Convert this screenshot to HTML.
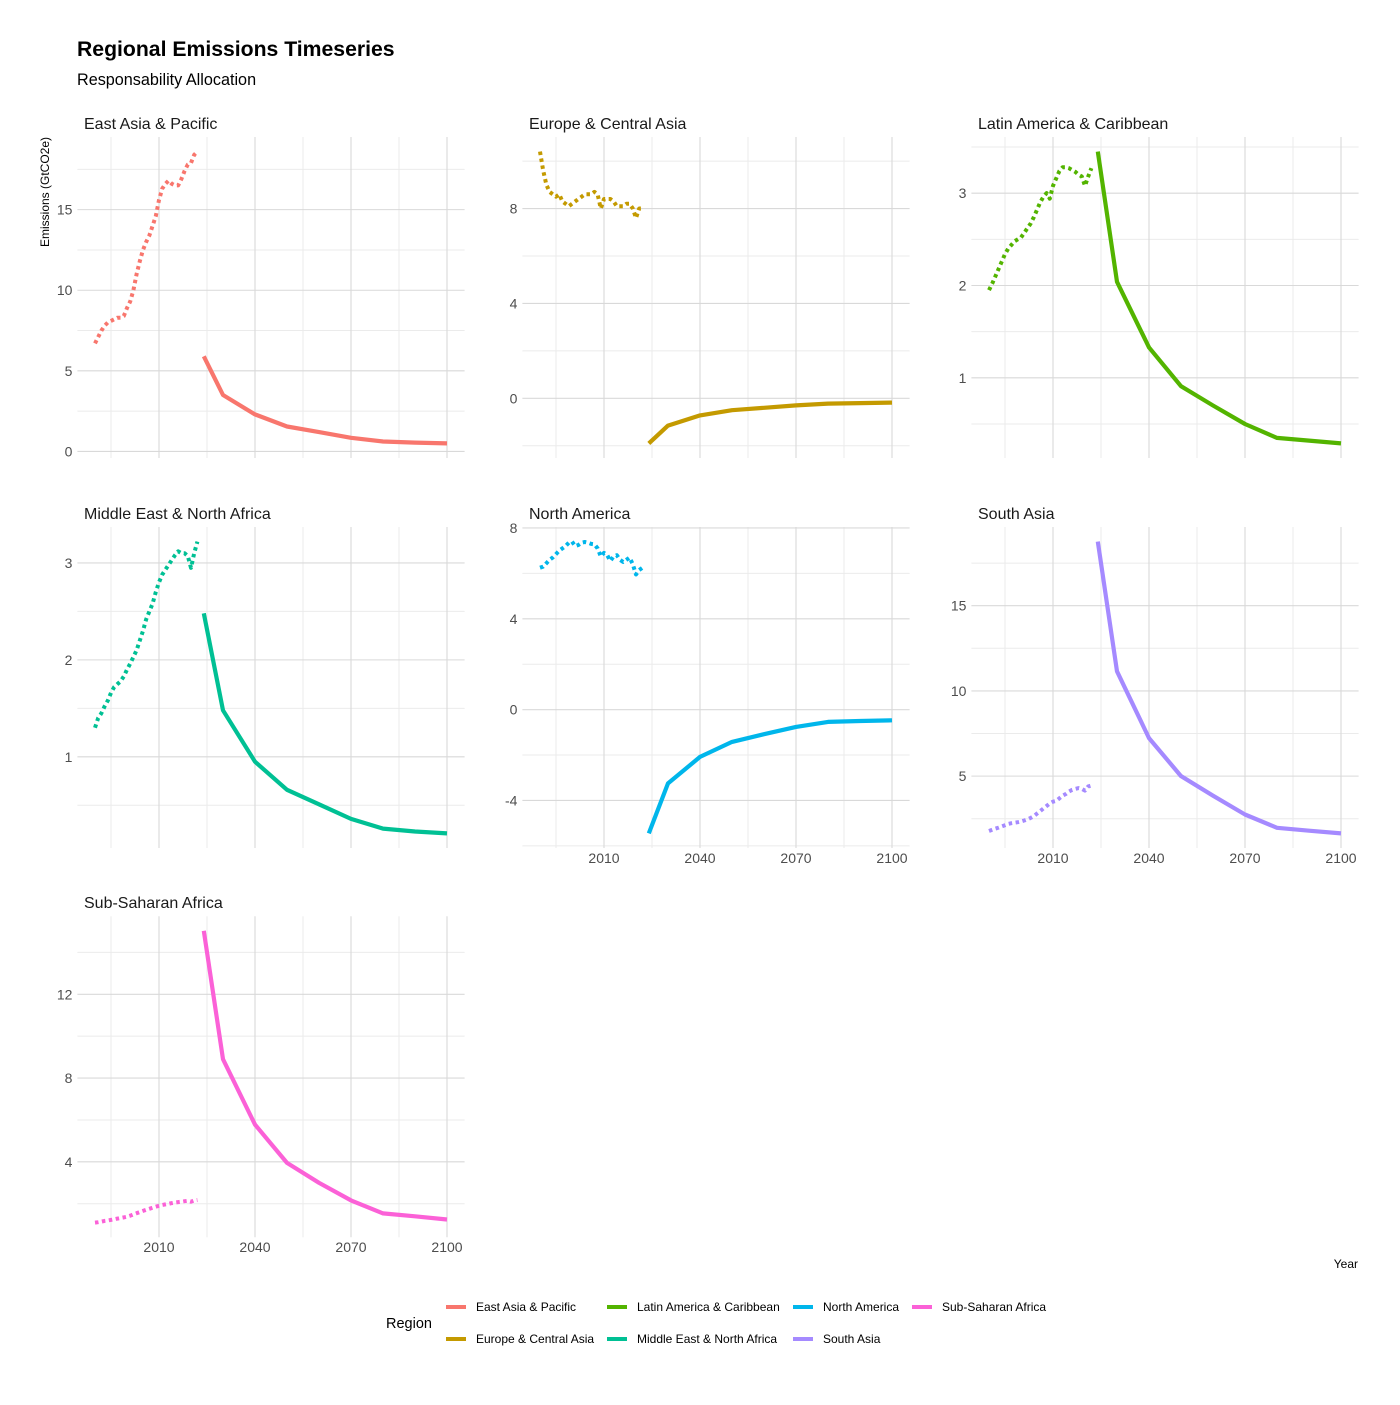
<!DOCTYPE html>
<html><head><meta charset="utf-8"><style>
body{margin:0;background:#fff;}
svg text{font-family:"Liberation Sans",sans-serif;}
</style></head><body>
<svg id="chart" width="1400" height="1400" viewBox="0 0 1400 1400" xmlns="http://www.w3.org/2000/svg">
<rect width="1400" height="1400" fill="#fff"/>
<text x="77" y="56" font-size="21.2" font-weight="bold" fill="#000">Regional Emissions Timeseries</text>
<text x="77" y="85" font-size="16.2" fill="#000">Responsability Allocation</text>
<text transform="translate(49,192) rotate(-90)" text-anchor="middle" font-size="12" fill="#000">Emissions (GtCO2e)</text>
<text x="1358" y="1268" text-anchor="end" font-size="12" fill="#000">Year</text>
<g id="panels"></g>
<g id="legend"></g>
</svg>
<script>
const regions = ["East Asia & Pacific","Europe & Central Asia","Latin America & Caribbean","Middle East & North Africa","North America","South Asia","Sub-Saharan Africa"];
const colors = ["#F8766D","#C49A00","#53B400","#00C094","#00B6EB","#A58AFF","#FB61D7"];
const histYears = [1990,1991,1992,1993,1994,1995,1996,1997,1998,1999,2000,2001,2002,2003,2004,2005,2006,2007,2008,2009,2010,2011,2012,2013,2014,2015,2016,2017,2018,2019,2020,2021,2022];
const projYears = [2024,2030,2040,2050,2060,2070,2080,2090,2100];
const histEAP = [6.7,7.1,7.5,7.8,8.0,8.1,8.2,8.3,8.3,8.4,8.9,9.3,10.0,11.0,11.8,12.5,13.0,13.4,14.0,14.6,15.6,16.3,16.6,16.8,16.6,16.5,16.5,16.9,17.4,17.8,17.9,18.4,18.6];
const projEAP = [5.9,3.5,2.3,1.55,1.2,0.85,0.62,0.55,0.5];
const histECA = [10.4,9.6,9.0,8.7,8.6,8.5,8.6,8.3,8.2,8.1,8.2,8.3,8.4,8.5,8.6,8.6,8.6,8.7,8.6,8.0,8.4,8.4,8.4,8.3,8.1,8.1,8.1,8.2,8.2,8.0,7.6,8.0,8.0];
const projECA = [-1.9,-1.15,-0.72,-0.5,-0.4,-0.3,-0.22,-0.2,-0.18];
const histLAC = [1.95,2.02,2.1,2.18,2.26,2.34,2.4,2.44,2.48,2.5,2.52,2.57,2.62,2.67,2.74,2.82,2.9,2.96,3.0,2.94,3.08,3.16,3.24,3.28,3.28,3.27,3.25,3.23,3.2,3.18,3.08,3.18,3.27];
const projLAC = [3.45,2.04,1.33,0.91,0.7,0.5,0.35,0.32,0.29];
const histMENA = [1.3,1.4,1.45,1.52,1.58,1.66,1.72,1.75,1.78,1.83,1.9,1.96,2.03,2.1,2.2,2.3,2.42,2.5,2.58,2.7,2.8,2.88,2.93,2.98,3.03,3.08,3.12,3.1,3.1,3.07,2.95,3.1,3.22];
const projMENA = [2.48,1.48,0.95,0.66,0.51,0.36,0.26,0.23,0.21];
const histNA = [6.25,6.3,6.45,6.6,6.7,6.85,7.0,7.1,7.2,7.35,7.4,7.2,7.25,7.35,7.38,7.35,7.3,7.28,7.1,6.75,6.9,6.8,6.55,6.75,6.8,6.6,6.5,6.6,6.7,6.4,5.95,6.15,6.25];
const projNA = [-5.45,-3.25,-2.08,-1.42,-1.08,-0.76,-0.54,-0.5,-0.47];
const histSA = [1.78,1.85,1.92,1.98,2.05,2.12,2.2,2.24,2.27,2.3,2.34,2.4,2.46,2.55,2.65,2.8,2.95,3.1,3.25,3.4,3.5,3.55,3.7,3.85,3.95,4.1,4.2,4.25,4.3,4.25,4.15,4.4,4.45];
const projSA = [18.76,11.15,7.23,5.0,3.85,2.75,1.97,1.8,1.64];
const histSSA = [1.1,1.12,1.15,1.18,1.2,1.23,1.26,1.29,1.32,1.35,1.38,1.43,1.49,1.55,1.6,1.66,1.71,1.76,1.81,1.86,1.9,1.94,1.97,2.0,2.03,2.06,2.08,2.1,2.12,2.14,2.1,2.16,2.18];
const projSSA = [15.03,8.9,5.78,3.95,3.0,2.16,1.54,1.4,1.25];
const histAll = [histEAP,histECA,histLAC,histMENA,histNA,histSA,histSSA];
const projAll = [projEAP,projECA,projLAC,projMENA,projNA,projSA,projSSA];
const yTicksAll = [[0,5,10,15],[0,4,8],[1,2,3],[1,2,3],[-4,0,4,8],[5,10,15],[4,8,12]];
const xTicks = [2010,2040,2070,2100];
const xMinor = [1995,2025,2055,2085];

const NS="http://www.w3.org/2000/svg";
const panelsG=document.getElementById('panels');
function mk(tag,attrs,parent){const e=document.createElementNS(NS,tag);for(const k in attrs)e.setAttribute(k,attrs[k]);parent.appendChild(e);return e;}
const lefts=[77.4,522.4,971.4], tops=[137,527,916.2], W=387.2, H=321;
const xMin=1984.5, xMax=2105.5;
regions.forEach((r,i)=>{
  const col=i%3,row=Math.floor(i/3);
  const L=lefts[col],T=tops[row],B=T+H;
  const g=mk('g',{},panelsG);
  
  
  const vals=histAll[i].concat(projAll[i]);
  let lo=Math.min(...vals),hi=Math.max(...vals);const pad=(hi-lo)*0.05;lo-=pad;hi+=pad;
  const sx=v=>L+(v-xMin)/(xMax-xMin)*W;
  const sy=v=>B-(v-lo)/(hi-lo)*H;
  const ticks=yTicksAll[i];const step=ticks[1]-ticks[0];
  for(let v=ticks[0]-step/2;v<=hi;v+=step){if(v<lo)continue;const y=sy(v);
    const ln=mk('line',{x1:L,x2:L+W,y1:y,y2:y,stroke:'#ebebeb','stroke-width':1},g);
    
    }
  xMinor.forEach(v=>{const x=sx(v);
    const ln=mk('line',{x1:x,x2:x,y1:T,y2:B,stroke:'#ebebeb','stroke-width':1},g);
    
    });
  ticks.forEach(v=>{const y=sy(v);
    const ln=mk('line',{x1:L,x2:L+W,y1:y,y2:y,stroke:'#d9d9d9','stroke-width':1.1},g);
    
    
    const t=mk('text',{x:L-5,y:y+5,'text-anchor':'end','font-size':14,fill:'#4d4d4d'},g);
    t.textContent=v;
    
    });
  const showX=(row===2)||(row===1&&col>0);
  xTicks.forEach(v=>{const x=sx(v);
    const ln=mk('line',{x1:x,x2:x,y1:T,y2:B,stroke:'#d9d9d9','stroke-width':1.1},g);
    
    
    if(showX){const t=mk('text',{x:x,y:B+15,'text-anchor':'middle','font-size':14,fill:'#4d4d4d'},g);
      t.textContent=v;
      
      }});
  const st=mk('text',{x:L+6.6,y:T-8,'font-size':16,fill:'#1a1a1a'},g);
  st.textContent=r;
  
  
  const hp=histYears.map((y,k)=>sx(y).toFixed(1)+','+sy(histAll[i][k]).toFixed(1)).join(' ');
  const h=mk('polyline',{points:hp,fill:'none',stroke:colors[i],'stroke-width':4,'stroke-dasharray':'3.5 3.5','stroke-linejoin':'round'},g);
  
  
  const pp=projYears.map((y,k)=>sx(y).toFixed(1)+','+sy(projAll[i][k]).toFixed(1)).join(' ');
  const p=mk('polyline',{points:pp,fill:'none',stroke:colors[i],'stroke-width':4.2,'stroke-linejoin':'round'},g);
  
  
});
const lg=document.getElementById('legend');
const lt=mk('text',{x:386,y:1328,'font-size':14.5,fill:'#000'},lg);
lt.textContent='Region';


const lx=[446,607,793,912];
regions.forEach((r,i)=>{
  const c=Math.floor(i/2),rr=i%2;const x=lx[c],y=rr?1339:1307;
  const e=mk('g',{},lg);
  
  
  mk('line',{x1:x,x2:x+20,y1:y,y2:y,stroke:colors[i],'stroke-width':4},e);
  const t=mk('text',{x:x+30,y:y+4,'font-size':12,fill:'#000'},e);
  t.textContent=r;
});
</script>
</body></html>
